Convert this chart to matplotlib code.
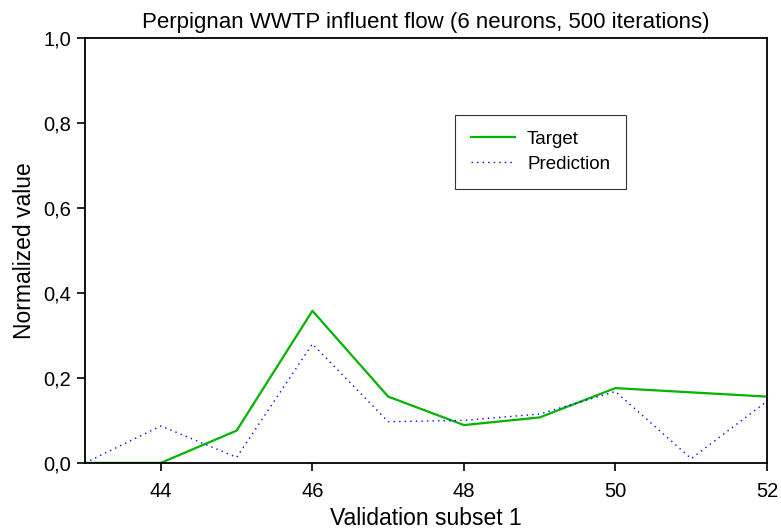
import matplotlib
matplotlib.use("Agg")
import matplotlib.pyplot as plt
from matplotlib.ticker import FuncFormatter

plt.rcParams['font.family'] = ['Liberation Sans', 'DejaVu Sans']

x = [43, 44, 45, 46, 47, 48, 49, 50, 51, 52]
target = [0.0, 0.0, 0.076, 0.358, 0.156, 0.089, 0.107, 0.176, 0.166, 0.156]
prediction = [0.0, 0.087, 0.013, 0.28, 0.097, 0.1, 0.115, 0.168, 0.01, 0.145]
xticks = [44, 46, 48, 50, 52]
yticks = [0.0, 0.2, 0.4, 0.6, 0.8, 1.0]

fig = plt.figure(figsize=(7.81, 5.29), dpi=100)
ax = fig.add_axes([0.109, 0.125, 0.873, 0.803])
ax.plot(x, target, color='#00b400', lw=1.6, label='Target')
ax.plot(x, prediction, color='#0000ff', lw=1.0, ls=(0, (1, 3)), label='Prediction')
ax.set_xlim(43, 52)
ax.set_ylim(0, 1.0)
ax.set_xticks(xticks)
ax.set_yticks(yticks)
ax.yaxis.set_major_formatter(FuncFormatter(lambda v, p: f"{v:.1f}".replace('.', ',')))
ax.tick_params(direction='out', length=6, width=1.2, labelsize=14.5, top=False, right=False)
ax.tick_params(axis='x', pad=8)
ax.tick_params(axis='y', pad=4)
for s in ax.spines.values():
    s.set_linewidth(1.3)
ax.set_xlabel('Validation subset 1', fontsize=16.5, labelpad=4)
ax.set_ylabel('Normalized value', fontsize=16.5, labelpad=5)
ax.set_title('Perpignan WWTP influent flow (6 neurons, 500 iterations)', fontsize=16, pad=7)
leg = ax.legend(loc='upper left', bbox_to_anchor=(0.5425, 0.819), fontsize=13.5, frameon=True,
                fancybox=False, edgecolor='black', handlelength=2.35, handletextpad=0.64,
                borderpad=0.85, labelspacing=0.4, borderaxespad=0)
leg.get_frame().set_linewidth(0.8)
fig.savefig('out.png', dpi=100)
